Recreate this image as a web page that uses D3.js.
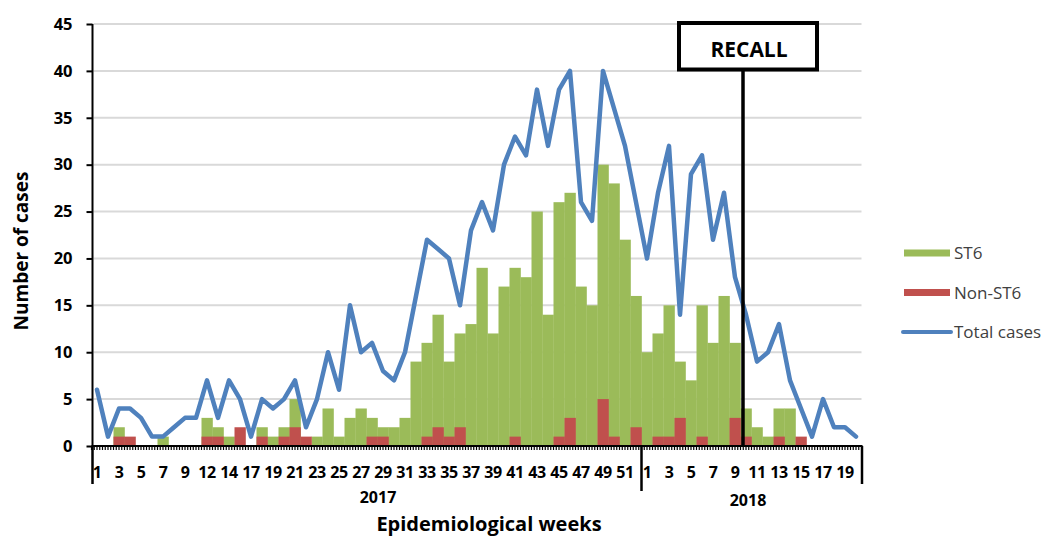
<!DOCTYPE html>
<html>
<head>
<meta charset="utf-8">
<script src="https://cdn.jsdelivr.net/npm/d3@7"></script>
<style>
  body { margin: 0; background: #fff; }
  svg { display: block; font-family: "Open Sans", sans-serif; }
</style>
</head>
<body>
<svg id="chart" width="1046" height="536"></svg>
<script>
// week numbers as they appear on the category axis (two weeks missing in 2017)
const weeks2017 = [1, 2, 3, 4, 5, 6, 7, 8, 9, 11, 12, 13, 14, 16, 17, 18, 19, 20,
  21, 22, 23, 24, 25, 26, 27, 28, 29, 30, 31, 32, 33, 34, 35, 36, 37, 38, 39, 40,
  41, 42, 43, 44, 45, 46, 47, 48, 49, 50, 51, 52];
const weeks2018 = [1, 2, 3, 4, 5, 6, 7, 8, 9, 10, 11, 12, 13, 14, 15, 16, 17, 18, 19, 20];

const st6_2017 = [0, 0, 2, 0, 0, 0, 1, 0, 0, 0, 3, 2, 1, 0, 0, 2, 1, 2, 5, 0,
  1, 4, 1, 3, 4, 3, 2, 2, 3, 9, 11, 14, 9, 12, 13, 19, 12, 17, 19, 18,
  25, 14, 26, 27, 17, 15, 30, 28, 22, 16];
const st6_2018 = [10, 12, 15, 9, 7, 15, 11, 16, 11, 4, 2, 1, 4, 4, 0, 0, 0, 0, 0, 0];

const nonSt6_2017 = [0, 0, 1, 1, 0, 0, 0, 0, 0, 0, 1, 1, 0, 2, 0, 1, 0, 1, 2, 1,
  0, 0, 0, 0, 0, 1, 1, 0, 0, 0, 1, 2, 1, 2, 0, 0, 0, 0, 1, 0,
  0, 0, 1, 3, 0, 0, 5, 1, 0, 2];
const nonSt6_2018 = [0, 1, 1, 3, 0, 1, 0, 0, 3, 1, 0, 0, 1, 0, 1, 0, 0, 0, 0, 0];

const total2017 = [6, 1, 4, 4, 3, 1, 1, 2, 3, 3, 7, 3, 7, 5, 1, 5, 4, 5, 7, 2,
  5, 10, 6, 15, 10, 11, 8, 7, 10, 16, 22, 21, 20, 15, 23, 26, 23, 30, 33, 31,
  38, 32, 38, 40, 26, 24, 40, 36, 32, 26];
const total2018 = [20, 27, 32, 14, 29, 31, 22, 27, 18, 14, 9, 10, 13, 7, 4, 1, 5, 2, 2, 1];

const yTicks = [0, 5, 10, 15, 20, 25, 30, 35, 40, 45];
const recallWeek = '2018-10';

const legendItems = [
  { label: 'ST6', type: 'rect', color: '#9bbb59' },
  { label: 'Non-ST6', type: 'rect', color: '#c0504d' },
  { label: 'Total cases', type: 'line', color: '#4f81bd' }
];

// build rows
let rows = [];
weeks2017.forEach((w, i) => rows.push({
  key: `2017-${w}`, year: 2017, week: w,
  st6: st6_2017[i], non: nonSt6_2017[i], total: total2017[i]
}));
weeks2018.forEach((w, i) => rows.push({
  key: `2018-${w}`, year: 2018, week: w,
  st6: st6_2018[i], non: nonSt6_2018[i], total: total2018[i]
}));

const svg = d3.select('#chart');
const plotLeft = 91.5, plotRight = 861.5, plotTop = 24, plotBottom = 446;

let x = d3.scaleBand().domain(rows.map(d => d.key)).range([plotLeft, plotRight]).padding(0);
let y = d3.scaleLinear().domain([0, 45]).range([plotBottom, plotTop]);
const bw = x.bandwidth();

// gridlines
svg.append('g')
    .selectAll('line')
    .data(yTicks.filter(t => t > 0))
    .join('line')
    .attr('x1', plotLeft + 2)
    .attr('x2', plotRight)
    .attr('y1', d => y(d))
    .attr('y2', d => y(d))
    .style('stroke', '#d9d9d9')
    .style('stroke-width', 2);

// bars: ST6 behind, Non-ST6 in front
svg.append('g')
    .selectAll('rect')
    .data(rows.filter(d => d.st6 > 0))
    .join('rect')
    .attr('x', d => x(d.key))
    .attr('width', bw + 0.3)
    .attr('y', d => y(d.st6))
    .attr('height', d => y(0) - y(d.st6))
    .style('fill', '#9bbb59');

svg.append('g')
    .selectAll('rect')
    .data(rows.filter(d => d.non > 0))
    .join('rect')
    .attr('x', d => x(d.key))
    .attr('width', bw + 0.3)
    .attr('y', d => y(d.non))
    .attr('height', d => y(0) - y(d.non))
    .style('fill', '#c0504d');

// total line
let line = d3.line()
    .x(d => x(d.key) + bw / 2)
    .y(d => y(d.total));

svg.append('path')
    .datum(rows)
    .attr('d', line)
    .style('fill', 'none')
    .style('stroke', '#4f81bd')
    .style('stroke-width', 4.5)
    .style('stroke-linejoin', 'round')
    .style('stroke-linecap', 'round');

// y axis
let yAxis = d3.axisLeft(y).tickValues(yTicks).tickSize(6).tickPadding(14);
let yg = svg.append('g').attr('transform', `translate(${plotLeft + 1},0)`).call(yAxis);
yg.select('.domain').remove();
yg.selectAll('.tick line').style('stroke', '#000').style('stroke-width', 2);
yg.selectAll('.tick text')
    .style('font-family', '"Open Sans", sans-serif')
    .style('font-size', '16.5px')
    .style('font-weight', 'bold')
    .style('fill', '#000');
svg.append('line')
    .attr('x1', plotLeft + 1).attr('x2', plotLeft + 1)
    .attr('y1', plotTop).attr('y2', plotBottom)
    .style('stroke', '#000').style('stroke-width', 2);

// x axis baseline
svg.append('line')
    .attr('x1', plotLeft).attr('x2', plotRight + 1)
    .attr('y1', plotBottom).attr('y2', plotBottom)
    .style('stroke', '#000').style('stroke-width', 2);

// dense minor ticks under the baseline (four per week)
let minor = [];
rows.forEach(d => {
  for (let k = 0; k < 4; k++)
    minor.push(x(d.key) + k * bw / 4);
});
svg.append('g')
    .selectAll('line')
    .data(minor)
    .join('line')
    .attr('x1', d => d).attr('x2', d => d)
    .attr('y1', plotBottom).attr('y2', plotBottom + 4)
    .style('stroke', '#000')
    .style('stroke-width', 1.2);

// week labels, every second category
svg.append('g')
    .selectAll('text')
    .data(rows.filter((d, i) => i % 2 === 0))
    .join('text')
    .attr('x', d => x(d.key) + bw / 2)
    .attr('y', plotBottom + 32)
    .attr('text-anchor', 'middle')
    .style('font-size', '16px')
    .style('font-weight', 'bold')
    .style('letter-spacing', '-0.4px')
    .text(d => d.week);

// year group separators
const yearStart2018 = x('2018-1');
[[plotLeft + 1, 38], [yearStart2018, 45], [plotRight + 0.5, 38]].forEach(([px, len]) => {
  svg.append('line')
      .attr('x1', px).attr('x2', px)
      .attr('y1', plotBottom).attr('y2', plotBottom + len)
      .style('stroke', '#000').style('stroke-width', 2.5);
});

svg.append('text')
    .attr('x', 378).attr('y', 503)
    .attr('text-anchor', 'middle')
    .style('font-size', '16px').style('font-weight', 'bold')
    .text('2017');
svg.append('text')
    .attr('x', 748).attr('y', 506)
    .attr('text-anchor', 'middle')
    .style('font-size', '16px').style('font-weight', 'bold')
    .text('2018');

// axis titles
svg.append('text')
    .attr('x', 489).attr('y', 531)
    .attr('text-anchor', 'middle')
    .style('font-size', '20px').style('font-weight', 'bold')
    .text('Epidemiological weeks');

svg.append('text')
    .attr('transform', 'translate(28,251) rotate(-90)')
    .attr('text-anchor', 'middle')
    .style('font-size', '19px').style('font-weight', 'bold')
    .text('Number of cases');

// recall marker
const recallX = x(recallWeek) + 2.5;
svg.append('line')
    .attr('x1', recallX).attr('x2', recallX)
    .attr('y1', 68).attr('y2', plotBottom)
    .style('stroke', '#000').style('stroke-width', 3.5);
svg.append('rect')
    .attr('x', 679).attr('y', 23)
    .attr('width', 138).attr('height', 46.5)
    .style('fill', '#fff')
    .style('stroke', '#000')
    .style('stroke-width', 4);
svg.append('text')
    .attr('x', 749).attr('y', 57)
    .attr('text-anchor', 'middle')
    .style('font-size', '21px').style('font-weight', 'bold')
    .text('RECALL');

// legend
let legend = svg.append('g').attr('transform', 'translate(904,253)');
let item = legend.selectAll('g')
    .data(legendItems)
    .join('g')
    .attr('transform', (d, i) => `translate(0,${i * 39.5})`);
item.filter(d => d.type === 'rect')
    .append('rect')
    .attr('x', 0).attr('y', -3.5)
    .attr('width', 46).attr('height', 7)
    .style('fill', d => d.color);
item.filter(d => d.type === 'line')
    .append('line')
    .attr('x1', -1).attr('x2', 47)
    .attr('y1', 0).attr('y2', 0)
    .style('stroke', d => d.color)
    .style('stroke-width', 4)
    .style('stroke-linecap', 'round');
item.append('text')
    .attr('x', 50).attr('y', 6)
    .style('font-size', '17px')
    .style('fill', '#404040')
    .text(d => d.label);
</script>
</body>
</html>
